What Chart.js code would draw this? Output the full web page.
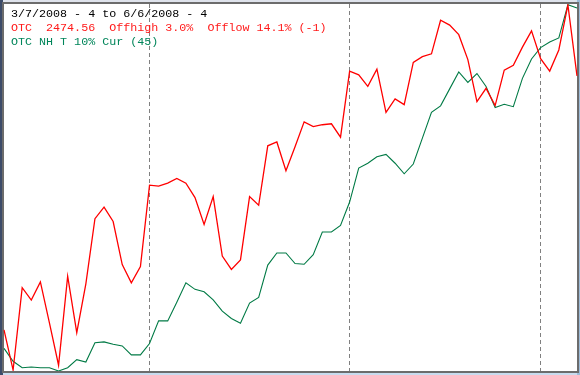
<!DOCTYPE html>
<html lang="en">
<head>
  <meta charset="UTF-8" />
  <title>OTC vs NH T 10%</title>
  <script src="https://cdn.jsdelivr.net/npm/chart.js"></script>
  <style>
    body {
      margin: 0;
      padding: 0;
      background: #c8dcef;
      overflow: hidden;
    }
    canvas {
      display: block;
    }
  </style>
</head>
<body>
  <canvas id="otcChart" width="580" height="375"></canvas>

  <script>
    // trading days 3/7/2008 .. 6/6/2008
    const days = [
      '3/7','3/10','3/11','3/12','3/13','3/14','3/17','3/18','3/19','3/20','3/24','3/25','3/26','3/27','3/28','3/31',
      '4/1','4/2','4/3','4/4','4/7','4/8','4/9','4/10','4/11','4/14','4/15','4/16','4/17','4/18','4/21','4/22',
      '4/23','4/24','4/25','4/28','4/29','4/30',
      '5/1','5/2','5/5','5/6','5/7','5/8','5/9','5/12','5/13','5/14','5/15','5/16','5/19','5/20','5/21','5/22',
      '5/23','5/27','5/28','5/29','5/30',
      '6/2','6/3','6/4','6/5','6/6'
    ];

    // OTC close
    const otc = [
      2211, 2169, 2255, 2242, 2261, 2218, 2174, 2267, 2208, 2259, 2327, 2339, 2324, 2279, 2260, 2277,
      2362, 2361, 2364, 2369, 2364, 2349, 2321, 2350, 2288, 2274, 2284, 2350, 2341, 2403, 2407, 2377,
      2402, 2428, 2423, 2425, 2426, 2412,
      2481, 2477, 2465, 2483, 2438, 2452, 2446, 2490, 2496, 2499, 2534, 2529, 2519, 2493, 2449, 2463,
      2445, 2482, 2487, 2506, 2523,
      2494, 2481, 2503, 2550, 2476
    ];

    // OTC NH T 10%
    const nhT = [
      2.8, 1.2, 0.4, 0.5, 0.4, 0.4, 0.0, 0.4, 1.4, 1.1, 3.5, 3.6, 3.3, 3.1, 2.0, 2.0,
      3.4, 6.2, 6.2, 8.5, 10.9, 10.1, 9.8, 8.8, 7.4, 6.5, 5.9, 8.4, 9.1, 13.1, 14.6, 14.6,
      13.3, 13.2, 14.4, 17.2, 17.2, 18.0,
      20.9, 25.1, 25.7, 26.5, 26.8, 25.7, 24.4, 25.6, 28.8, 32.0, 32.8, 34.9, 37.0, 35.7, 36.8, 35.2,
      32.6, 33.0, 32.7, 36.2, 38.6,
      40.0, 40.7, 41.2, 45.3, 44.9
    ];

    const monthStarts = ['4/1', '5/1', '6/2'];

    const headerLines = [
      { text: '3/7/2008 - 4 to 6/6/2008 - 4', color: '#000000' },
      { text: 'OTC  2474.56  Offhigh 3.0%  Offlow 14.1% (-1)', color: '#ff1a1a' },
      { text: 'OTC NH T 10% Cur (45)', color: '#00855a' }
    ];

    // window frame + white panel behind the plot, header text on top
    const framePlugin = {
      id: 'frame',
      beforeDraw(chart) {
        const { ctx, chartArea: a } = chart;
        ctx.save();
        ctx.fillStyle = '#c8dcef';
        ctx.fillRect(0, 0, chart.width, chart.height);
        ctx.fillStyle = '#dfe3ec';
        ctx.fillRect(0, 0, chart.width, 3);
        ctx.fillStyle = '#3d4c69';
        ctx.fillRect(0, 0, 3, chart.height);
        ctx.fillStyle = '#9dbcd9';
        ctx.fillRect(chart.width - 3, 0, 3, chart.height);
        ctx.fillStyle = '#ffffff';
        ctx.fillRect(a.left, a.top, a.right - a.left, a.bottom - a.top);
        ctx.strokeStyle = '#6c6c6c';
        ctx.lineWidth = 2;
        ctx.strokeRect(a.left - 1, a.top - 1, a.right - a.left + 2, a.bottom - a.top + 2);
        ctx.restore();
      },
      afterDraw(chart) {
        const { ctx } = chart;
        ctx.save();
        ctx.font = '11.7px "Liberation Mono", "Courier New", monospace';
        ctx.textBaseline = 'alphabetic';
        headerLines.forEach((l, i) => {
          ctx.fillStyle = l.color;
          ctx.fillText(l.text, 11, 17 + i * 14);
        });
        ctx.restore();
      }
    };

    new Chart(document.getElementById('otcChart').getContext('2d'), {
      type: 'line',
      data: {
        labels: days,
        datasets: [
          {
            label: 'OTC',
            data: otc,
            borderColor: '#ff0000',
            borderWidth: 1.3,
            pointRadius: 0,
            tension: 0,
            yAxisID: 'yOtc'
          },
          {
            label: 'OTC NH T 10%',
            data: nhT,
            borderColor: '#007a45',
            borderWidth: 1.1,
            pointRadius: 0,
            tension: 0,
            yAxisID: 'yNh'
          }
        ]
      },
      options: {
        responsive: false,
        animation: false,
        layout: { padding: { left: 4, right: 3, top: 4, bottom: 4 } },
        plugins: {
          legend: { display: false },
          tooltip: { enabled: false }
        },
        scales: {
          x: {
            display: true,
            offset: false,
            ticks: { display: false, autoSkip: false },
            grid: {
              drawTicks: false,
              lineWidth: 1,
              color: ctx => monthStarts.includes(days[ctx.index]) ? '#808080' : 'rgba(0,0,0,0)'
            },
            border: { display: false, dash: [4, 3] }
          },
          yOtc: {
            display: false,
            min: 2168,
            max: 2551
          },
          yNh: {
            display: false,
            min: 0,
            max: 45.4
          }
        }
      },
      plugins: [framePlugin]
    });
  </script>
</body>
</html>
